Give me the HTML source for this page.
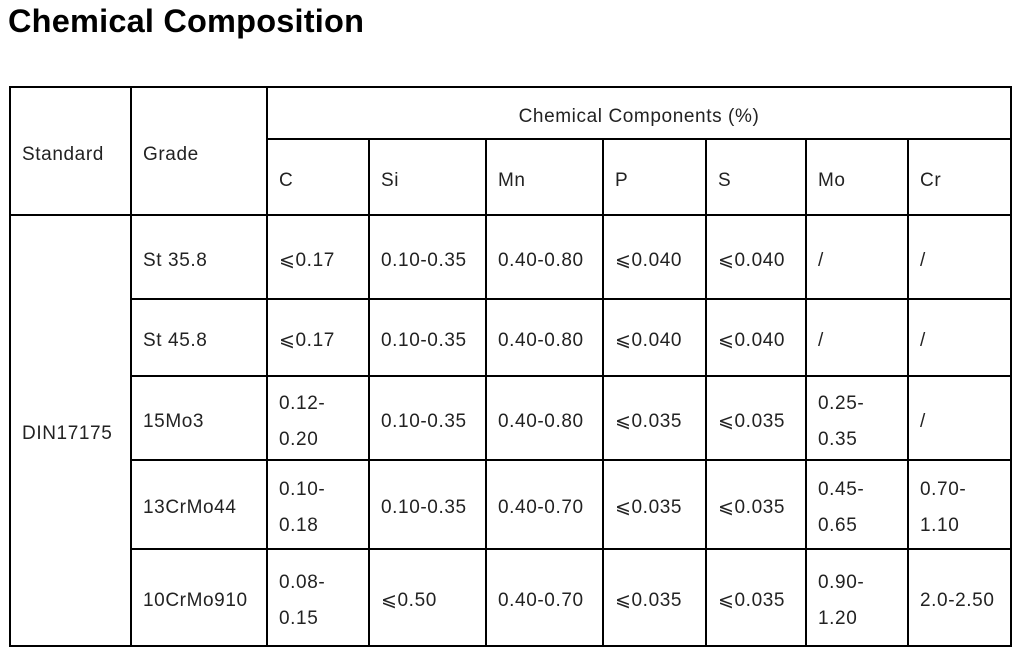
<!DOCTYPE html>
<html><head><style>
body{margin:0;width:1024px;height:663px;background:#fff;position:relative;font-family:"Liberation Sans","DejaVu Sans",sans-serif;color:#222;overflow:hidden}
h1{position:absolute;left:8px;top:3px;margin:0;font-size:32.5px;font-weight:bold;color:#000;letter-spacing:0.2px}
.h{position:absolute;height:2px;background:#000}
.v{position:absolute;width:2px;background:#000}
.c{position:absolute;display:flex;align-items:center;font-size:19px;letter-spacing:0.6px;line-height:36px;padding-left:12px;padding-top:7px;box-sizing:border-box}
</style></head><body>
<h1>Chemical Composition</h1>
<div id="g"></div>
<script>
const X=[10,131,267,369,486,603,706,806,908,1011];
const Y=[87,139,215,299,376,460,549,646];
let s='';
function h(x1,x2,y){s+=`<div class="h" style="left:${x1-1}px;width:${x2-x1+2}px;top:${y-1}px"></div>`}
function v(x,y1,y2){s+=`<div class="v" style="left:${x-1}px;top:${y1-1}px;height:${y2-y1+2}px"></div>`}
function c(x1,x2,y1,y2,t,center){s+=`<div class="c" style="left:${x1}px;width:${x2-x1}px;top:${y1}px;height:${y2-y1}px;${center?'justify-content:center;padding-left:0':''}"><div>${t}</div></div>`}
h(X[0],X[9],Y[0]);h(X[2],X[9],Y[1]);
for(let i=2;i<8;i++)h(i==2||i==7?X[0]:X[1],X[9],Y[i]);
v(X[0],Y[0],Y[7]);v(X[1],Y[0],Y[7]);v(X[2],Y[0],Y[7]);v(X[9],Y[0],Y[7]);
for(let i=3;i<9;i++)v(X[i],Y[1],Y[7]);
c(X[0],X[1],Y[0],Y[2],'Standard');c(X[1],X[2],Y[0],Y[2],'Grade');
c(X[2],X[9],Y[0],Y[1],'Chemical Components (%)',1);
['C','Si','Mn','P','S','Mo','Cr'].forEach((t,i)=>c(X[i+2],X[i+3],Y[1],Y[2],t));
c(X[0],X[1],Y[2],Y[7],'DIN17175');
const L='⩽';
const rows=[
['St 35.8',L+'0.17','0.10-0.35','0.40-0.80',L+'0.040',L+'0.040','/','/'],
['St 45.8',L+'0.17','0.10-0.35','0.40-0.80',L+'0.040',L+'0.040','/','/'],
['15Mo3','0.12-<br>0.20','0.10-0.35','0.40-0.80',L+'0.035',L+'0.035','0.25-<br>0.35','/'],
['13CrMo44','0.10-<br>0.18','0.10-0.35','0.40-0.70',L+'0.035',L+'0.035','0.45-<br>0.65','0.70-<br>1.10'],
['10CrMo910','0.08-<br>0.15',L+'0.50','0.40-0.70',L+'0.035',L+'0.035','0.90-<br>1.20','2.0-2.50']];
rows.forEach((r,j)=>r.forEach((t,i)=>c(X[i+1],X[i+2],Y[j+2],Y[j+3],t)));
document.getElementById('g').innerHTML=s;
</script>
</body></html>
